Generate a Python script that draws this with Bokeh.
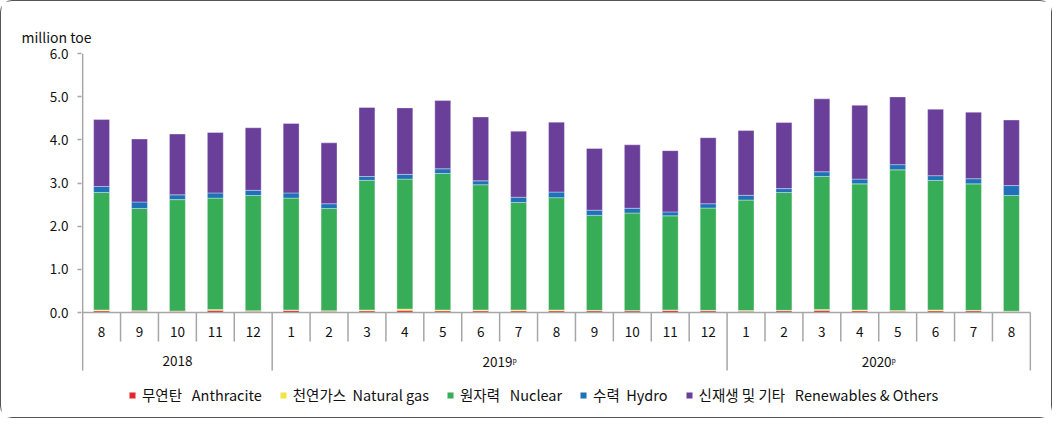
from bokeh.plotting import figure
from bokeh.models import ColumnDataSource, Range1d, FixedTicker, NumeralTickFormatter
from bokeh.core.properties import value
from bokeh.embed import file_html
from bokeh.resources import INLINE

# ---------------- data ----------------
months = ["8", "9", "10", "11", "12",
          "1", "2", "3", "4", "5", "6", "7", "8", "9", "10", "11", "12",
          "1", "2", "3", "4", "5", "6", "7", "8"]
years = ["2018"] * 5 + ["2019\u1d56"] * 12 + ["2020\u1d56"] * 8

anthracite = [0.04, 0.03, 0.03, 0.05, 0.03, 0.05, 0.03, 0.04, 0.05, 0.04, 0.04, 0.04, 0.04,
              0.04, 0.04, 0.05, 0.04, 0.03, 0.04, 0.05, 0.04, 0.03, 0.04, 0.04, 0.02]
natural_gas = [0.02, 0.01, 0.005, 0.02, 0.01, 0.01, 0.01, 0.02, 0.03, 0.02, 0.02, 0.02, 0.02,
               0.01, 0.005, 0.01, 0.01, 0.015, 0.01, 0.02, 0.02, 0.015, 0.02, 0.01, 0.01]
nuclear = [2.72, 2.37, 2.58, 2.58, 2.67, 2.59, 2.37, 3.00, 3.01, 3.16, 2.90, 2.49, 2.60,
           2.20, 2.26, 2.18, 2.37, 2.56, 2.73, 3.08, 2.92, 3.26, 3.00, 2.93, 2.68]
hydro = [0.14, 0.15, 0.11, 0.12, 0.12, 0.12, 0.11, 0.09, 0.11, 0.11, 0.09, 0.12, 0.13,
         0.12, 0.11, 0.09, 0.10, 0.11, 0.09, 0.11, 0.11, 0.12, 0.11, 0.12, 0.23]
renewables = [1.55, 1.46, 1.41, 1.40, 1.45, 1.61, 1.41, 1.60, 1.54, 1.58, 1.48, 1.53, 1.62,
              1.43, 1.47, 1.42, 1.53, 1.50, 1.53, 1.69, 1.71, 1.57, 1.54, 1.54, 1.52]

series = ["anthracite", "natural_gas", "nuclear", "hydro", "renewables"]
labels = ["\ubb34\uc5f0\ud0c4   Anthracite", "\ucc9c\uc5f0\uac00\uc2a4  Natural gas",
          "\uc6d0\uc790\ub825   Nuclear", "\uc218\ub825  Hydro",
          "\uc2e0\uc7ac\uc0dd \ubc0f \uae30\ud0c0   Renewables & Others"]
colors = ["#E5262B", "#EFE640", "#38AD57", "#1F72B8", "#6A3F9A"]
y_ticks = [0, 1, 2, 3, 4, 5, 6]

FONT = "Noto Sans CJK KR"
GRAY = "#a6a6a6"

n = len(months)
xs = [i + 0.5 for i in range(n)]
src = ColumnDataSource(dict(x=xs, anthracite=anthracite, natural_gas=natural_gas,
                            nuclear=nuclear, hydro=hydro, renewables=renewables))

y_top = y_ticks[-1]
y_bottom = -2.3166
month_depth = -0.672
group_depth = -1.344

p = figure(width=1052, height=418, output_backend="svg", toolbar_location=None,
           x_range=Range1d(-0.03, n + 0.03), y_range=Range1d(y_bottom, y_top),
           min_border_left=80, min_border_right=22, min_border_top=52, min_border_bottom=7,
           x_axis_location=None)
p.outline_line_color = None
p.grid.visible = False
p.styles = {"border": "1px solid #555555", "border-radius": "12px"}

p.vbar_stack(series, x="x", width=0.42, source=src, color=colors,
             line_color="white", line_alpha=0.35, line_width=1, legend_label=labels)

# y axis
yax = p.yaxis[0]
yax.ticker = FixedTicker(ticks=y_ticks)
yax.formatter = NumeralTickFormatter(format="0.0")
yax.axis_line_color = None
yax.major_tick_out = 4
yax.major_tick_in = 0
yax.minor_tick_line_color = None
yax.major_tick_line_color = GRAY
yax.major_tick_line_width = 1.5
yax.major_label_text_font = FONT
yax.major_label_text_font_size = "13.5px"
yax.major_label_text_color = "#111111"
yax.major_label_standoff = 9

# drawn axis lines
p.segment(x0=[0], y0=[group_depth], x1=[0], y1=[y_top], line_color=GRAY, line_width=1.5)
p.segment(x0=[0], y0=[0], x1=[n], y1=[0], line_color=GRAY, line_width=1.5)

# category separators
bounds = [i for i in range(1, n + 1)]
group_bounds = [i for i in range(1, n) if years[i] != years[i - 1]] + [n]
mb = [b for b in bounds if b not in group_bounds]
p.segment(x0=mb, y0=[0] * len(mb), x1=mb, y1=[month_depth] * len(mb),
          line_color=GRAY, line_width=1.5)
p.segment(x0=group_bounds, y0=[0] * len(group_bounds), x1=group_bounds,
          y1=[group_depth] * len(group_bounds), line_color=GRAY, line_width=1.5)

# month labels
p.text(x=xs, y=[-0.463] * n, text=months, text_align="center", text_baseline="middle",
       text_font=value(FONT), text_font_size="13.5px", text_color="#111111")

# year labels
starts = [0] + group_bounds[:-1]
ycenters = [(s + e) / 2 for s, e in zip(starts, group_bounds)]
ynames = [years[s] for s in starts]
p.text(x=ycenters, y=[-1.135] * len(ycenters), text=ynames, text_align="center",
       text_baseline="middle", text_font=value(FONT), text_font_size="13.5px",
       text_color="#111111")

# title as unit label
p.title.text = "million toe"
p.title.align = "left"
p.title.offset = -60
p.title.text_font = FONT
p.title.text_font_size = "14px"
p.title.text_font_style = "normal"
p.title.text_color = "#111111"
p.title.standoff = 13

# legend
leg = p.legend[0]
leg.orientation = "horizontal"
leg.location = (47, 7)
leg.border_line_color = None
leg.background_fill_alpha = 0
leg.glyph_width = 8
leg.glyph_height = 8
leg.label_standoff = 6
leg.spacing = 17
leg.padding = 0
leg.margin = 0
leg.label_height = 16
leg.label_text_font = FONT
leg.label_text_font_size = "14.5px"
leg.label_text_color = "#111111"

open("out.html", "w").write(file_html(p, INLINE))
